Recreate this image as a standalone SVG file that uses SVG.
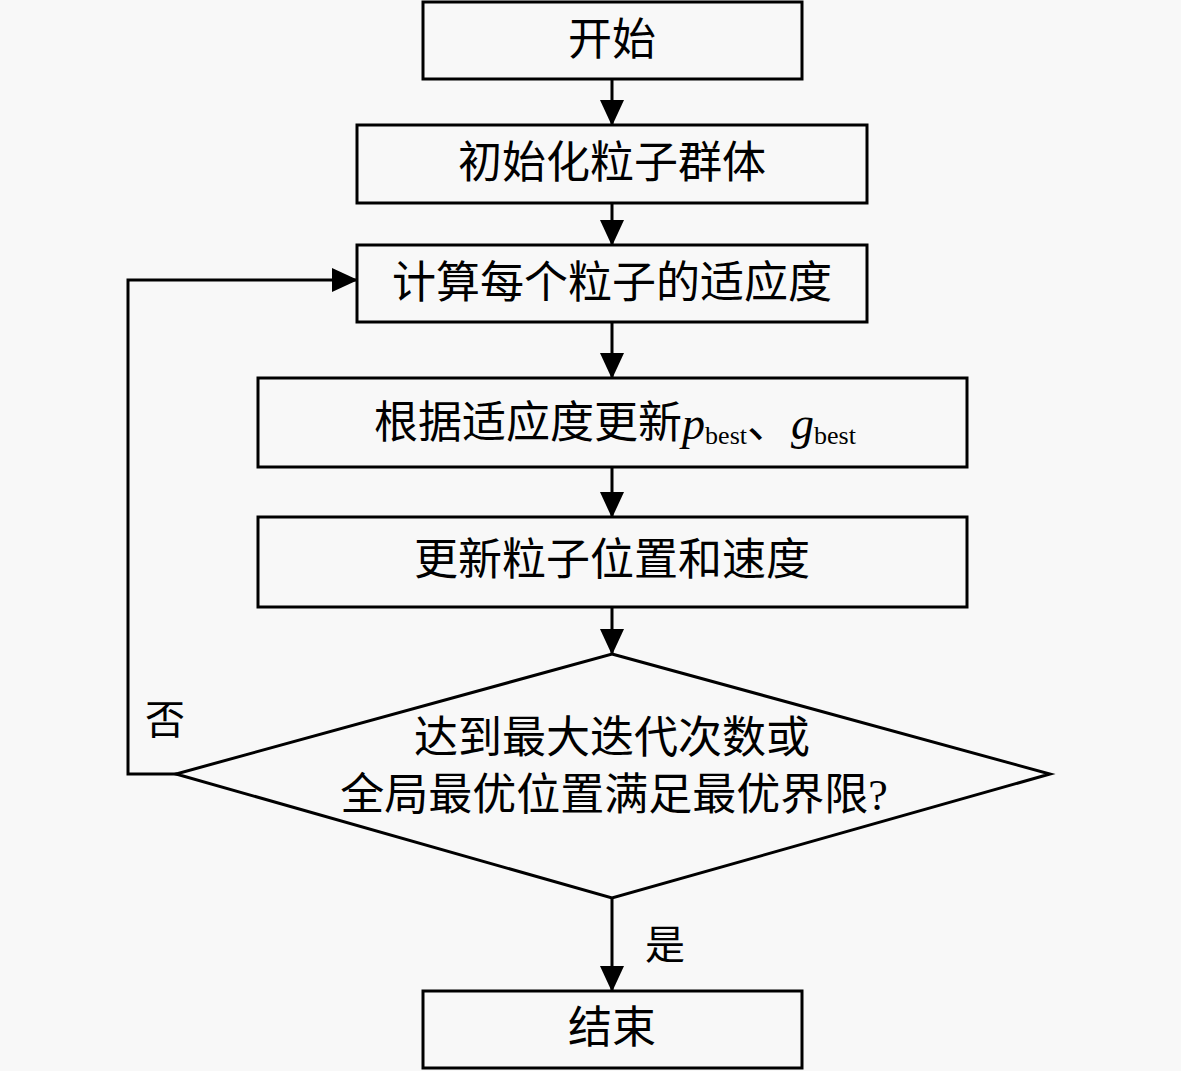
<svg xmlns="http://www.w3.org/2000/svg" width="1181" height="1071" viewBox="0 0 1181 1071">
<style>
.box{fill:#f8f8f8;stroke:#000;stroke-width:3}
.t{font-family:"Liberation Serif","Noto Sans CJK SC",serif;font-size:44px;fill:#000;text-anchor:middle;dominant-baseline:central}
.lt{font-family:"Liberation Serif","Noto Sans CJK SC",serif;font-size:40px;fill:#000;text-anchor:middle;dominant-baseline:central}
.con{fill:none;stroke:#000;stroke-width:3}
.it{font-family:"Liberation Serif",serif;font-style:italic;font-size:46px}
.sub{font-family:"Liberation Serif",serif;font-size:26px}
</style>
<defs>
<marker id="ah" markerUnits="userSpaceOnUse" viewBox="0 0 26 24" refX="25" refY="12" markerWidth="26" markerHeight="24" orient="auto">
<path d="M0,0 L26,12 L0,24 z" fill="#000"/>
</marker>
</defs>
<rect width="1181" height="1071" fill="#f8f8f8"/>
<g id="connectors">
<line class="con" x1="612" y1="79" x2="612" y2="125" marker-end="url(#ah)"/>
<line class="con" x1="612" y1="203" x2="612" y2="245" marker-end="url(#ah)"/>
<line class="con" x1="612" y1="322" x2="612" y2="378" marker-end="url(#ah)"/>
<line class="con" x1="612" y1="467" x2="612" y2="517" marker-end="url(#ah)"/>
<line class="con" x1="612" y1="607" x2="612" y2="654" marker-end="url(#ah)"/>
<line class="con" x1="612" y1="898" x2="612" y2="991" marker-end="url(#ah)"/>
<polyline class="con" points="177,774 128,774 128,280 357,280" marker-end="url(#ah)"/>
<text class="lt" x="165" y="720">否</text>
<text class="lt" x="665" y="945">是</text>
</g>
<g id="start">
<rect class="box" x="423" y="2" width="379" height="77"/>
<text class="t" x="612" y="40">开始</text>
</g>
<g id="init">
<rect class="box" x="357" y="125" width="510" height="78"/>
<text class="t" x="612" y="163">初始化粒子群体</text>
</g>
<g id="fitness">
<rect class="box" x="357" y="245" width="510" height="77"/>
<text class="t" x="612" y="283">计算每个粒子的适应度</text>
</g>
<g id="update-best">
<rect class="box" x="258" y="378" width="709" height="89"/>
<text class="t" x="615" y="423">根据适应度更新<tspan class="it">p</tspan><tspan class="sub" dy="12">best</tspan><tspan dy="-12">、</tspan><tspan class="it">g</tspan><tspan class="sub" dy="12">best</tspan></text>
</g>
<g id="update-pos">
<rect class="box" x="258" y="517" width="709" height="90"/>
<text class="t" x="612" y="560">更新粒子位置和速度</text>
</g>
<g id="decision">
<polygon class="box" points="612,654 1050,774 612,898 176,774"/>
<text class="t" x="612" y="738">达到最大迭代次数或</text>
<text class="t" x="614" y="795">全局最优位置满足最优界限?</text>
</g>
<g id="end">
<rect class="box" x="423" y="991" width="379" height="77"/>
<text class="t" x="612" y="1028">结束</text>
</g>
</svg>
